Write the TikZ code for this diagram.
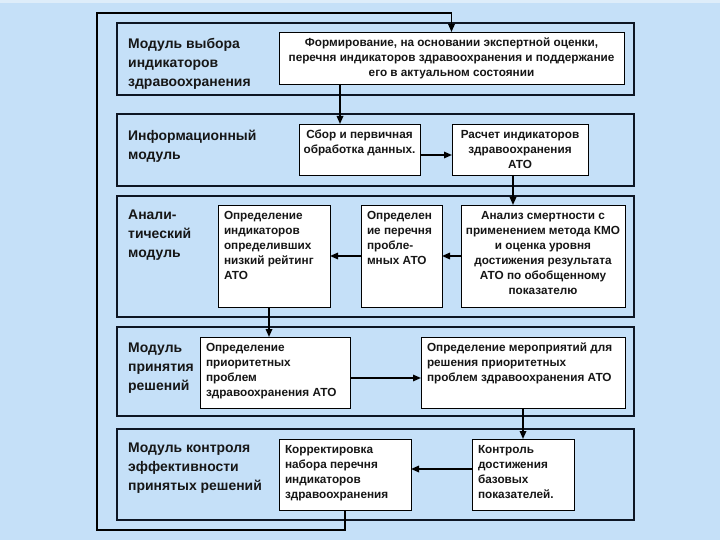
\documentclass[tikz,border=0pt]{standalone}
\usepackage{fontspec}
\setmainfont{Liberation Sans}
\usetikzlibrary{arrows.meta,calc}
\definecolor{bg}{RGB}{197,224,248}
\definecolor{bgtop}{RGB}{222,237,250}
\definecolor{frame}{RGB}{14,22,36}
\definecolor{ink}{RGB}{22,22,22}
\newcommand\cbx[3]{\parbox[c][#2bp][t]{#1bp}{\makebox[#1bp][c]{\begin{tabular}[t]{@{}c@{}}#3\end{tabular}}}}
\newcommand\lbx[3]{\parbox[c][#2bp][t]{#1bp}{\makebox[#1bp][l]{\begin{tabular}[t]{@{}l@{}}#3\end{tabular}}}}
\begin{document}
\begin{tikzpicture}[x=1bp,y=-1bp,
  modbox/.style={draw=frame,line width=2.8bp,inner sep=0,outer sep=0,anchor=north west},
  modlabel/.style={anchor=north west,inner sep=0,align=left,text=ink,
    font=\fontsize{14}{19}\selectfont\bfseries},
  box/.style={draw=black,line width=0.9bp,fill=white,inner xsep=6bp,inner ysep=4bp,
    outer sep=0,anchor=north west,text=ink,font=\fontsize{11.8}{15}\selectfont\bfseries},
  arr/.style={line width=1.6bp,draw=black,-{Triangle[length=8bp,width=6.5bp]}}]
\useasboundingbox (0,0) rectangle (720,540);
\fill[bg] (0,0) rectangle (720,540);
\fill[bgtop] (0,0) rectangle (720,3);

% modules
\node[modbox,minimum width=517bp,minimum height=72bp] (m1) at (117,23) {};
\node[modbox,minimum width=517bp,minimum height=72bp] (m2) at (117,114) {};
\node[modbox,minimum width=517bp,minimum height=121bp] (m3) at (117,196) {};
\node[modbox,minimum width=517bp,minimum height=89bp] (m4) at (117,327) {};
\node[modbox,minimum width=517bp,minimum height=91bp] (m5) at (117,429) {};

\node[modlabel] (l1) at (128,38.5) {Модуль выбора\\индикаторов\\здравоохранения};
\node[modlabel] (l2) at (128,129.5) {Информационный\\модуль};
\node[modlabel] (l3) at (128,209.5) {Анали-\\тический\\модуль};
\node[modlabel] (l4) at (128,342.5) {Модуль\\принятия\\решений};
\node[modlabel] (l5) at (128,442.5) {Модуль контроля\\эффективности\\принятых решений};

% boxes
\node[box] (form) at (279,32) {\cbx{333}{44}{Формирование, на основании экспертной оценки,\\перечня индикаторов здравоохранения и поддержание\\его в актуальном состоянии}};
\node[box] (sbor) at (299,124) {\cbx{109}{43}{Сбор и первичная\\обработка данных.}};
\node[box] (rasch) at (452,124) {\cbx{124}{43}{Расчет индикаторов\\здравоохранения\\АТО}};
\node[box] (oprind) at (218,205) {\lbx{100}{94}{Определение\\индикаторов\\определивших\\низкий рейтинг\\АТО}};
\node[box] (oprper) at (361,205) {\lbx{69}{94}{Определен\\ие перечня\\пробле-\\мных АТО}};
\node[box] (analiz) at (461,205) {\cbx{152}{94}{Анализ смертности с\\применением метода КМО\\и оценка уровня\\достижения результата\\АТО по обобщенному\\показателю}};
\node[box] (prior) at (200,337) {\lbx{138}{63}{Определение\\приоритетных\\проблем\\здравоохранения АТО}};
\node[box] (mer) at (421,337) {\lbx{192}{63}{Определение мероприятий для\\решения приоритетных\\проблем здравоохранения АТО}};
\node[box] (korr) at (279,439) {\lbx{120}{63}{Корректировка\\набора перечня\\индикаторов\\здравоохранения}};
\node[box] (kontr) at (472,439) {\lbx{90}{63}{Контроль\\достижения\\базовых\\показателей.}};

% helper coordinates
\coordinate (lb) at (97,530);
\coordinate (lt) at (97,13);
\coordinate (xa) at (340,0);
\coordinate (xb) at (513,0);
\coordinate (xc) at (269,0);
\coordinate (ya) at (0,155);
\coordinate (yb) at (0,378);
\coordinate (yc) at (0,469);

% connectors
\draw[arr] (korr.south) |- (lb) -- (lt) -| (form.north);
\draw[arr] (form.south -| xa) -- (sbor.north -| xa);
\draw[arr] (sbor.east |- ya) -- (rasch.west |- ya);
\draw[arr] (rasch.south -| xb) -- (analiz.north -| xb);
\draw[arr] (analiz.west) -- (oprper.east);
\draw[arr] (oprper.west) -- (oprind.east);
\draw[arr] (oprind.south -| xc) -- (prior.north -| xc);
\draw[arr] (prior.east |- yb) -- (mer.west |- yb);
\draw[arr] (mer.south) -- (kontr.north);
\draw[arr] (kontr.west |- yc) -- (korr.east |- yc);
\end{tikzpicture}
\end{document}
